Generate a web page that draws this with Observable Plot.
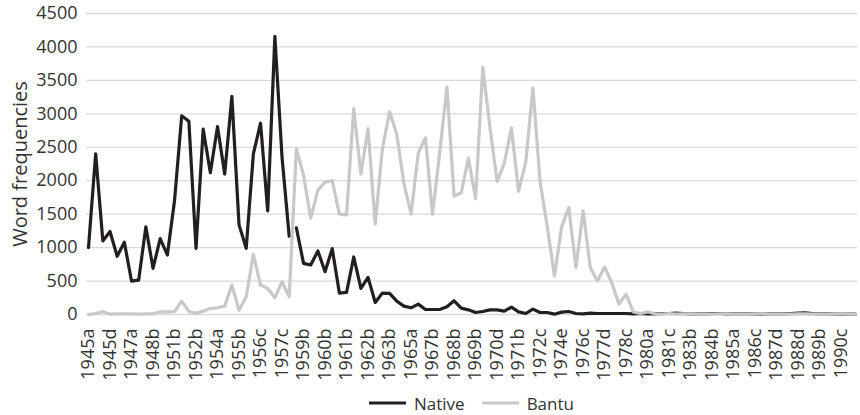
<!DOCTYPE html>
<html>
<head>
<meta charset="utf-8">
<script src="https://cdn.jsdelivr.net/npm/d3@7"></script>
<script src="https://cdn.jsdelivr.net/npm/@observablehq/plot@0.6"></script>
<style>
  body { margin: 0; background: #fff; font-family: "Open Sans", sans-serif; }
  #legend { display: flex; justify-content: center; align-items: center; gap: 17px;
            padding-left: 86px; padding-right: 3px; width: 771px; height: 28px;
            font-size: 17px; color: #333; }
  .item { display: flex; align-items: center; gap: 8px; }
</style>
</head>
<body>
<div id="chart"></div>
<div id="legend"></div>
<script>
const tickLabels = ["1945a","1945d","1947a","1948b","1951b","1952b","1954a","1955b","1956c","1957c",
  "1959b","1960b","1961b","1962b","1963b","1965a","1967b","1968b","1969b","1970d","1971b","1972c",
  "1974e","1976c","1977d","1978c","1980a","1981c","1983b","1984b","1985a","1986c","1987d","1988d",
  "1989b","1990c"];

const seriesNames = ["Native", "Bantu"];
const seriesColors = ["#231f20", "#c8c8c8"];

const native = [1000,2400,1100,1240,870,1080,500,515,1310,690,
  1135,890,1700,2970,2890,990,2770,2120,2810,2100,
  3260,1340,990,2400,2860,1550,4160,2350,1170,1295,
  765,740,950,640,985,320,330,860,390,555,
  180,320,315,200,125,100,155,75,75,75,
  115,205,95,70,30,45,70,70,50,110,
  40,15,80,30,30,5,35,45,15,10,
  20,15,15,15,15,15,10,15,10,10,
  15,15,20,15,10,10,10,15,15,10,
  10,10,10,10,5,10,10,10,15,20,
  25,15,10,10,10,5,5,5];

const bantu = [0,15,45,5,10,10,10,5,10,10,
  40,40,45,200,45,20,50,90,100,125,
  440,65,265,900,440,390,250,490,265,2480,
  2080,1440,1860,1980,2000,1500,1490,3080,2100,2780,
  1350,2480,3030,2700,1960,1500,2410,2640,1500,2430,
  3400,1770,1820,2340,1730,3700,2800,1990,2260,2790,
  1840,2280,3390,1980,1310,575,1310,1600,700,1550,
  700,500,710,475,155,305,40,15,40,10,
  5,15,5,10,10,5,5,5,10,10,
  5,5,5,10,10,5,5,5,5,10,
  10,5,5,5,10,10,5,5];

// Native line is broken between these two categories in the source
const nativeBreakAfter = 28;
const yTicks = [0,500,1000,1500,2000,2500,3000,3500,4000,4500];

const nativeRows = native.map((v, i) => ({i, v, seg: i <= nativeBreakAfter ? "a" : "b"}));
const bantuRows = bantu.map((v, i) => ({i, v}));
const xTicks = tickLabels.map((_, k) => k * 3);

const chart = Plot.plot({
  width: 860, height: 389,
  marginLeft: 86, marginRight: 3, marginTop: 13, marginBottom: 75,
  style: {fontFamily: "Open Sans, sans-serif", fontSize: "18px", color: "#333", background: "white"},
  x: {domain: [0, native.length - 1], inset: 2},
  y: {domain: [0, 4500]},
  marks: [
    Plot.gridY(yTicks, {stroke: "#d9d9d9", strokeOpacity: 1, strokeWidth: 1.3}),
    Plot.axisY(yTicks, {tickSize: 0, tickPadding: 9, label: null, tickFormat: d => String(d), fontSize: 18}),
    Plot.axisX(xTicks, {tickSize: 0, tickPadding: 14, tickRotate: -90, label: null,
      tickFormat: i => tickLabels[i / 3], fontSize: 18}),
    Plot.text(["Word frequencies"], {frameAnchor: "left", textAnchor: "middle", dx: -66, rotate: -90, fontSize: 20, fill: "#333"}),
    Plot.lineY(nativeRows, {x: "i", y: "v", z: "seg", stroke: seriesColors[0], strokeWidth: 3.2}),
    Plot.lineY(bantuRows, {x: "i", y: "v", stroke: seriesColors[1], strokeWidth: 3.2})
  ]
});
document.getElementById("chart").appendChild(chart);

const legend = document.getElementById("legend");
seriesNames.forEach((name, k) => {
  const item = document.createElement("div");
  item.className = "item";
  item.innerHTML = `<svg width="37" height="6"><line x1="0" x2="37" y1="3" y2="3" stroke="${seriesColors[k]}" stroke-width="3.2"/></svg><span>${name}</span>`;
  legend.appendChild(item);
});
</script>
</body>
</html>
